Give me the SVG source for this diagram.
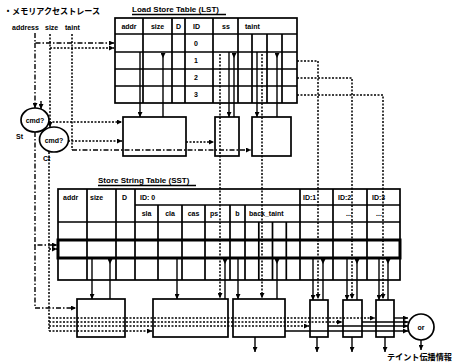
<svg xmlns="http://www.w3.org/2000/svg" width="456" height="364" viewBox="0 0 456 364">
<defs>
<marker id="ah" viewBox="0 0 6 6" refX="6" refY="3" markerWidth="5" markerHeight="5" markerUnits="userSpaceOnUse" orient="auto"><path d="M0,0L6,3L0,6z" fill="#000"/></marker>
<marker id="tk" viewBox="0 0 6 6" refX="0" refY="3" markerWidth="5" markerHeight="5" markerUnits="userSpaceOnUse" orient="auto"><path d="M0,0L6,3L0,6z" fill="#000"/></marker>
<style>
.t{font-family:"Liberation Sans",Arial,sans-serif;font-weight:bold;font-size:7px;fill:#000}
.ti{font-family:"Liberation Sans",Arial,sans-serif;font-weight:bold;font-size:8px;fill:#000}
.jp{font-family:"Liberation Sans","Noto Sans CJK JP",sans-serif;font-weight:bold;font-size:8.5px;fill:#000}
.g{fill:none;stroke:#000;stroke-width:1.7}
.bx{fill:#fff;stroke:#000;stroke-width:1.7}
.thick{fill:none;stroke:#000;stroke-width:3}
.s{fill:none;stroke:#000;stroke-width:1.4}
.d{fill:none;stroke:#000;stroke-width:1.5;stroke-dasharray:2 1.5}
.dd{fill:none;stroke:#000;stroke-width:1.4;stroke-dasharray:5 2 1.5 2}
.ar{marker-end:url(#ah)}
.tp{marker-start:url(#tk)}
</style>
</defs>
<rect width="456" height="364" fill="#fff"/>

<g id="trace-label">
<text class="jp" x="4" y="14" textLength="96" lengthAdjust="spacingAndGlyphs">・メモリアクセストレース</text>
<text class="t" x="12" y="30">address</text>
<text class="t" x="45" y="30">size</text>
<text class="t" x="65" y="30">taint</text>
</g>

<g id="lst">
<text class="ti" x="132" y="12">Load Store Table (LST)</text>
<line class="s" x1="132" y1="14.5" x2="226" y2="14.5" stroke-width="1"/>
<rect class="bx" x="115" y="18" width="182" height="85"/>
<path class="g" d="M115,34H297M115,69H297M115,86H297M143,18V103M172,18V103M185,18V103M213,18V103M238,18V103M252,34V103M267,34V103M282,34V103"/>
<line class="g" x1="115" y1="52" x2="297" y2="52" stroke-width="2.6"/>
<text class="t" x="129" y="29" text-anchor="middle">addr</text>
<text class="t" x="157.5" y="29" text-anchor="middle">size</text>
<text class="t" x="178.5" y="29" text-anchor="middle">D</text>
<text class="t" x="193" y="29">ID</text>
<text class="t" x="222" y="29">ss</text>
<text class="t" x="245" y="29">taint</text>
<text class="t" x="194" y="46">0</text>
<text class="t" x="194" y="63">1</text>
<text class="t" x="194" y="80">2</text>
<text class="t" x="194" y="97">3</text>
</g>

<g id="sst">
<text class="ti" x="98" y="183">Store String Table (SST)</text>
<line class="s" x1="98" y1="185.5" x2="196" y2="185.5" stroke-width="1"/>
<rect class="bx" x="58" y="189" width="342" height="91"/>
<path class="g" d="M135,205H400M58,222H400M87,189V280M116,189V280M135,189V280M300,189V280M333,189V280M367,189V280M158,205V280M182,205V280M205,205V280M230,205V280M245,205V280M258.8,222V280M272.5,222V280M286.3,222V280"/>
<rect class="thick" x="58" y="240" width="342" height="18"/>
<text class="t" x="63" y="200">addr</text>
<text class="t" x="90" y="200">size</text>
<text class="t" x="122" y="200">D</text>
<text class="t" x="140" y="200">ID: 0</text>
<text class="t" x="303" y="200">ID:1</text>
<text class="t" x="338" y="200">ID:2</text>
<text class="t" x="372" y="200">ID:3</text>
<text class="t" x="146.5" y="216" text-anchor="middle">sla</text>
<text class="t" x="170" y="216" text-anchor="middle">cla</text>
<text class="t" x="193.5" y="216" text-anchor="middle">cas</text>
<text class="t" x="214" y="216" text-anchor="middle">ps</text>
<text class="t" x="237.5" y="216" text-anchor="middle">b</text>
<text class="t" x="249" y="216">back_taint</text>
<text class="t" x="346" y="216">...</text>
<text class="t" x="376" y="216">...</text>
</g>

<g id="cmd-st">
<ellipse class="bx" cx="35" cy="120" rx="14" ry="12"/>
<text class="t" x="35" y="123" text-anchor="middle">cmd?</text>
<text class="t" x="16" y="139">St</text>
</g>
<g id="cmd-ct">
<ellipse class="bx" cx="54" cy="139.5" rx="14.5" ry="12.5"/>
<text class="t" x="54" y="142.5" text-anchor="middle">cmd?</text>
<text class="t" x="43" y="161">Ct</text>
</g>

<g id="box-l1"><rect class="bx" x="123" y="117" width="63" height="39"/></g>
<g id="box-l2"><rect class="bx" x="215" y="117" width="24" height="39"/></g>
<g id="box-l3"><rect class="bx" x="252" y="117" width="39" height="39"/></g>
<g id="box-s1"><rect class="bx" x="77" y="299" width="48" height="38"/></g>
<g id="box-s2"><rect class="bx" x="153" y="299" width="75" height="38"/></g>
<g id="box-s3"><rect class="bx" x="233" y="299" width="52" height="38"/></g>
<g id="box-id1"><rect class="bx" x="310" y="300" width="18" height="37"/></g>
<g id="box-id2"><rect class="bx" x="343" y="300" width="19" height="37"/></g>
<g id="box-id3"><rect class="bx" x="376" y="300" width="18" height="37"/></g>
<g id="or">
<circle class="bx" cx="421" cy="327" r="13"/>
<text class="t" x="421" y="330" text-anchor="middle">or</text>
</g>
<g id="out-label"><text class="jp" x="387" y="360" textLength="65" lengthAdjust="spacingAndGlyphs">テイント伝播情報</text></g>

<g id="connectors">
<path class="dd ar" d="M35,33V43H114"/>
<path class="dd ar" d="M35,43V108"/>
<path class="s ar" d="M41,101V109"/>
<path class="d ar" d="M50,34V48H114"/>
<path class="d ar" d="M50,48V127"/>
<path class="d" d="M72,34V150"/>
<path class="dd ar" d="M72,150H251"/>
<path class="d ar" d="M49,122H122"/>
<path class="d ar" d="M68,141H122"/>
<path class="d ar" d="M186,142H214"/>
<path class="s ar" d="M140,52V117"/>
<path class="s tp" d="M163,53V117"/>
<path class="s ar" d="M229,52V117"/>
<path class="s tp" d="M234,53V117"/>
<path class="s ar" d="M257,52V117"/>
<path class="s tp" d="M277,53V117"/>
<path class="d ar" d="M220,54V298"/>
<path class="d ar" d="M262,54V298"/>
<path class="d ar" d="M297,61H318V299"/>
<path class="d ar" d="M297,78H352V299"/>
<path class="d ar" d="M297,95H383V299"/>
<path class="dd ar" d="M35,132V245H57"/>
<path class="dd ar" d="M35,245V308H76"/>
<path class="d" d="M49,152V331"/>
<path class="d ar" d="M49,249H57"/>
<path class="s ar" d="M92,258V299"/>
<path class="s tp" d="M110,259V299"/>
<path class="s ar" d="M177,258V299"/>
<path class="s tp" d="M225,259V299"/>
<path class="s ar" d="M238,258V299"/>
<path class="s tp" d="M277,259V299"/>
<path class="s ar" d="M313,258V300"/>
<path class="s tp" d="M323,259V300"/>
<path class="s ar" d="M347,258V300"/>
<path class="s tp" d="M357,259V300"/>
<path class="s ar" d="M379,258V300"/>
<path class="s tp" d="M388,259V300"/>
<path class="d ar" d="M49,318H375"/>
<path class="d ar" d="M49,322H342"/>
<path class="d ar" d="M49,326H309"/>
<path class="d ar" d="M49,331H152"/>
<path class="s ar" d="M394,318H408"/>
<path class="s ar" d="M362,322H408"/>
<path class="s ar" d="M328,326H408"/>
<path class="s ar" d="M285,331H408"/>
<path class="s ar" d="M255,337V352"/>
<path class="s ar" d="M317,337V352"/>
<path class="s ar" d="M352,337V352"/>
<path class="s ar" d="M385,337V352"/>
<path class="s ar" d="M421,340V350"/>
</g>
</svg>
